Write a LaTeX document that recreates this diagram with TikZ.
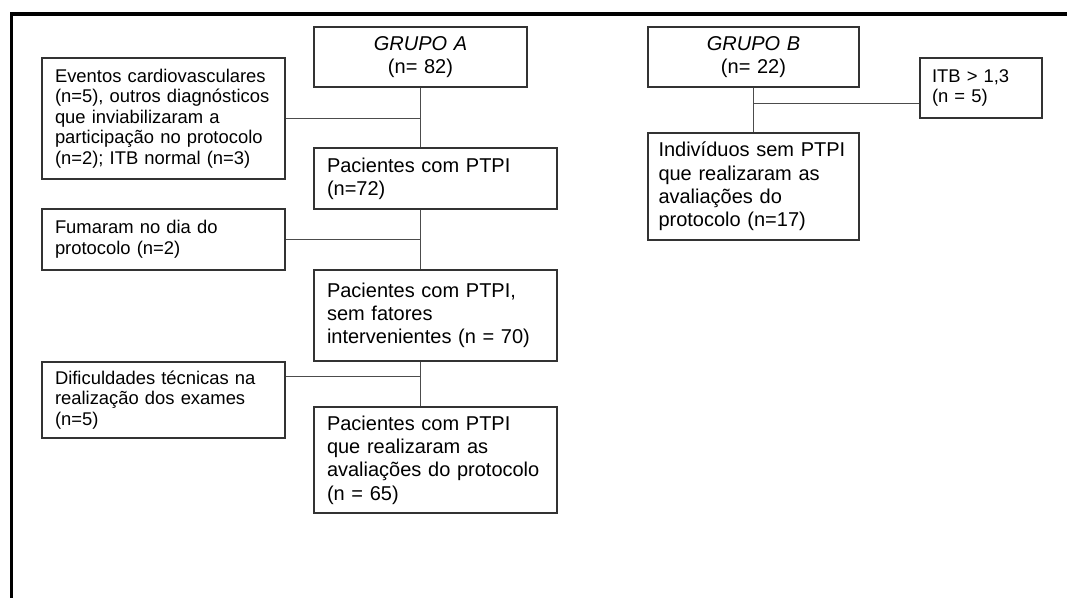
\documentclass[tikz,border=0pt]{standalone}
\usepackage{fontspec}
\setmainfont{Liberation Sans}
\usetikzlibrary{calc}

\newcommand{\letraA}{\fontsize{10}{11.65}\selectfont}
\newcommand{\letraB}{\fontsize{9.2}{10.3}\selectfont}

\begin{document}
\begin{tikzpicture}[x=0.5pt,y=-0.5pt,
    caixa/.style={draw=black!80,line width=0.65pt,inner xsep=6.5pt,inner ysep=0pt,
      align=left,text width=108.5pt,minimum width=121.5pt,font=\letraA},
    lateral/.style={caixa,font=\letraB},
    grupo/.style={caixa,align=center},
    liga/.style={draw=black!70,line width=0.8pt}]
  \useasboundingbox (0,0) rectangle (1067,598);
  % moldura
  \draw[line width=1.6pt] (11.7,598) |- (1067,14);

  % grupo A
  \node[grupo,text width=93.5pt,minimum width=106.5pt,minimum height=30pt]
    (ga) at (420.5,57) {\textit{GRUPO A}\\(n= 82)};
  \node[caixa,minimum height=30.5pt] (p72) at (435.5,178.5)
    {Pacientes com PTPI\\(n=72)};
  \node[caixa,minimum height=45.5pt] (p70) at (435.5,315.5)
    {Pacientes com PTPI,\\sem fatores\\intervenientes (n = 70)};
  \node[caixa,minimum height=53pt] (p65) at (435.5,460)
    {Pacientes com PTPI\\que realizaram as\\avaliações do protocolo\\(n = 65)};
  % exclusoes do grupo A
  \node[lateral,minimum height=60.5pt] (ev) at (163.5,118.5)
    {Eventos cardiovasculares\\(n=5), outros diagnósticos\\que inviabilizaram a\\participação no protocolo\\(n=2); ITB normal (n=3)};
  \node[lateral,minimum height=30.5pt] (fu) at (163.5,239.5)
    {Fumaram no dia do\\protocolo (n=2)};
  \node[lateral,minimum height=38pt] (di) at (163.5,400)
    {Dificuldades técnicas na\\realização dos exames\\(n=5)};

  % grupo B
  \node[grupo,text width=92.5pt,minimum width=105.5pt,minimum height=30pt]
    (gb) at (753.5,57) {\textit{GRUPO B}\\(n= 22)};
  \node[caixa,inner xsep=5.25pt,text width=95pt,minimum width=105.5pt,minimum height=53.5pt]
    (ind) at (753.5,186.5)
    {Indivíduos sem PTPI\\que realizaram as\\avaliações do\\protocolo (n=17)};
  \node[lateral,inner xsep=6pt,text width=49pt,minimum width=61pt,minimum height=30pt]
    (itb) at (981,88) {ITB > 1,3\\(n = 5)};

  % ligacoes
  \draw[liga] (ga.south) -- (ga.south |- p72.north);
  \draw[liga] (ev.east) -- (ev.east -| ga.south);
  \draw[liga] (p72.south -| ga.south) -- (p70.north -| ga.south);
  \draw[liga] (fu.east) -- (fu.east -| ga.south);
  \draw[liga] (p70.south -| ga.south) -- (p65.north -| ga.south);
  \coordinate (di-sai) at ($(di.north east)+(0,15)$);
  \draw[liga] (di-sai) -- (di-sai -| ga.south);
  \draw[liga] (gb.south) -- (ind.north);
  \coordinate (itb-ent) at ($(itb.south west)+(0,-15)$);
  \draw[liga] (itb-ent) -- (itb-ent -| gb.south);
\end{tikzpicture}
\end{document}
